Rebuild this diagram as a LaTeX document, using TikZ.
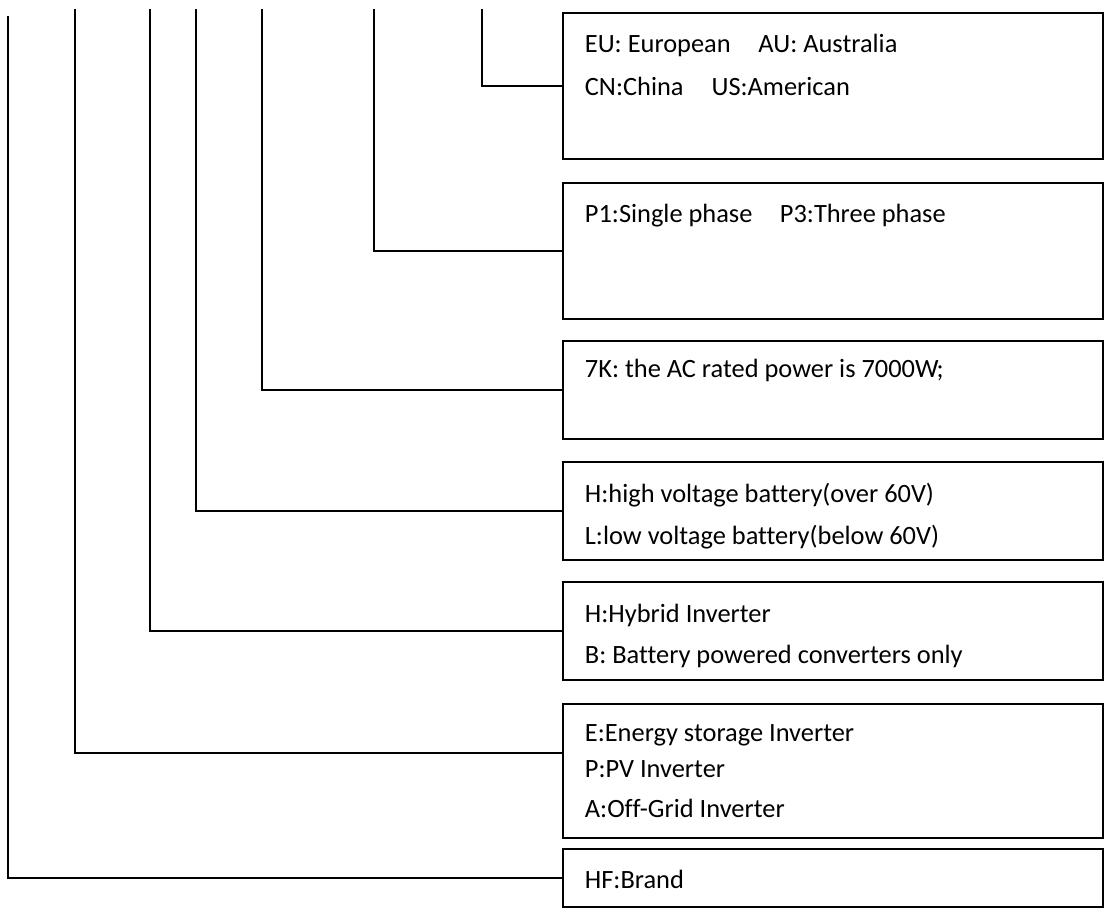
\documentclass[tikz,border=0pt]{standalone}
\usepackage{fontspec}
\setmainfont[Ligatures=NoCommon]{Carlito}
\usepackage{tikz}
\tikzset{>=latex}

\begin{document}
\begin{tikzpicture}[x=0.5pt,y=-0.5pt,
  code line/.style={line width=1pt},
  code box/.style={draw,line width=1pt,rectangle,minimum width=270pt,inner sep=0pt},
  code text/.style={anchor=base west,inner sep=0pt,font=\fontsize{13.2}{16}\selectfont}]
\useasboundingbox (0,0) rectangle (1105,909);
% boxes
\node[code box,minimum height=73pt] (region) at (833,86) {};
\node[code box,minimum height=68pt] (phase) at (833,251) {};
\node[code box,minimum height=49pt] (power) at (833,390) {};
\node[code box,minimum height=49pt] (battery) at (833,511) {};
\node[code box,minimum height=49pt] (kind) at (833,631) {};
\node[code box,minimum height=67pt] (inverter) at (833,771) {};
\node[code box,minimum height=29pt] (brand) at (833,878) {};
% texts
\node[code text] (region1) at (584.5,53) {EU: European\hspace{1.05em}AU: Australia};
\node[code text] (region2) at (584.5,96) {CN:China\hspace{1.06em}US:American};
\node[code text] (phase1) at (584.5,223) {P1:Single phase\hspace{1.04em}P3:Three phase};
\node[code text] (power1) at (584.5,378) {7K: the AC rated power is 7000W;};
\node[code text] (battery1) at (584.5,503) {H:high voltage battery(over 60V)};
\node[code text] (battery2) at (584.5,545) {L:low voltage battery(below 60V)};
\node[code text] (kind1) at (584.5,623) {H:Hybrid Inverter};
\node[code text] (kind2) at (584.5,663) {B: Battery powered converters only};
\node[code text] (inverter1) at (584.5,741) {E:Energy storage Inverter};
\node[code text] (inverter2) at (584.5,777) {P:PV Inverter};
\node[code text] (inverter3) at (584.5,818) {A:Off-Grid Inverter};
\node[code text] (brand1) at (584.5,888) {HF:Brand};
% line tops
\coordinate (top1) at (8,16);
\coordinate (top2) at (75,9.5);
\coordinate (top3) at (150,9.5);
\coordinate (top4) at (196,9.5);
\coordinate (top5) at (262,9.5);
\coordinate (top6) at (374,9.5);
\coordinate (top7) at (482,9.5);
% connectors
\draw[code line] (top7) |- (region.west);
\draw[code line] (top6) |- (phase.west);
\draw[code line] (top5) |- (power.west);
\draw[code line] (top4) |- (battery.west);
\draw[code line] (top3) |- (kind.west);
\draw[code line] (top2) |- ([yshift=9pt]inverter.west); % above centre
\draw[code line] (top1) |- (brand.west);
\end{tikzpicture}
\end{document}
